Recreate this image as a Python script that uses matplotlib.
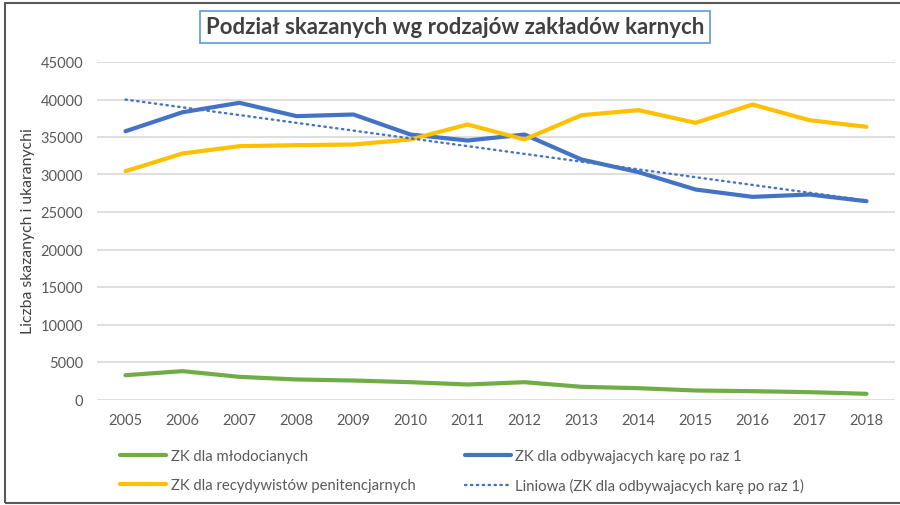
import numpy as np
import matplotlib
matplotlib.use("Agg")
import matplotlib.pyplot as plt
from matplotlib.patches import Rectangle

plt.rcParams['font.family'] = ['Lato', 'DejaVu Sans']

years = [2005, 2006, 2007, 2008, 2009, 2010, 2011, 2012, 2013, 2014, 2015, 2016, 2017, 2018]
mlodociani = [3240, 3780, 3020, 2670, 2530, 2310, 2000, 2310, 1690, 1510, 1200, 1110, 980, 760]
pierwszy_raz = [35770, 38300, 39560, 37780, 38000, 35330, 34530, 35330, 32000, 30310, 28000, 27020, 27330, 26440]
recydywisci = [30440, 32800, 33780, 33910, 34000, 34670, 36670, 34670, 37910, 38580, 36890, 39330, 37240, 36360]
yticks = [0, 5000, 10000, 15000, 20000, 25000, 30000, 35000, 40000, 45000]

labels = ["ZK dla młodocianych", "ZK dla odbywajacych karę po raz 1",
          "ZK dla recydywistów penitencjarnych", "Liniowa (ZK dla odbywajacych karę po raz 1)"]
title = "Podział skazanych wg rodzajów zakładów karnych"
ylabel = "Liczba skazanych i ukaranychi"

W, H = 900, 506
fig = plt.figure(figsize=(W / 100, H / 100), dpi=100)
ax = fig.add_axes([97 / W, 1 - 400.5 / H, (895 - 97) / W, (400.5 - 63) / H])

green, blue, yellow = '#70AD47', '#4472C4', '#FFC000'
x = np.array(years, dtype=float)
l1, = ax.plot(x, mlodociani, color=green, lw=3.0, solid_capstyle='round', solid_joinstyle='round', zorder=3)
l2, = ax.plot(x, pierwszy_raz, color=blue, lw=3.0, solid_capstyle='round', solid_joinstyle='round', zorder=3)
l3, = ax.plot(x, recydywisci, color=yellow, lw=3.0, solid_capstyle='round', solid_joinstyle='round', zorder=3)
coef = np.polyfit(x, pierwszy_raz, 1)
l4, = ax.plot(x, np.polyval(coef, x), color=blue, lw=1.7, linestyle=(0, (0.6, 1.9)),
              dash_capstyle='round', zorder=4)

ax.set_xlim(years[0] - 0.5, years[-1] + 0.5)
ax.set_ylim(0, 45000)
ax.set_xticks(years)
ax.set_xticklabels([str(y) for y in years])
ax.set_yticks(yticks)
ax.set_yticklabels([str(v) for v in yticks])
ax.grid(axis='y', color='#D9D9D9', lw=1.2)
ax.set_axisbelow(True)
for s in ax.spines.values():
    s.set_visible(False)
ax.tick_params(axis='both', length=0, labelsize=10.5, labelcolor='#595959')
ax.tick_params(axis='x', pad=10)
ax.tick_params(axis='y', pad=10)

fig.text(28 / W, 1 - 231 / H, ylabel, rotation=90, ha='center', va='center',
         fontsize=11.3, color='#404040')

fig.text(455 / W, 1 - 28 / H, title, ha='center', va='center', fontsize=16,
         fontweight='bold', color='#404040',
         bbox=dict(boxstyle='square,pad=0.25', facecolor='white', edgecolor='#5B9BD5', lw=1.2))

leg = fig.legend([l1, l3, l2, l4], [labels[0], labels[2], labels[1], labels[3]],
                 ncol=2, loc='upper left', bbox_to_anchor=(107 / W, 1 - 437 / H),
                 frameon=False, fontsize=10.7, handlelength=3.1, handletextpad=0.3,
                 columnspacing=3.3, labelspacing=1.0)
for t in leg.get_texts():
    t.set_color('#595959')

fig.patches.append(Rectangle((5 / W, 2 / H), 1.2, 1 - 6 / H, transform=fig.transFigure,
                             fill=False, edgecolor='#595959', lw=1.5))

fig.savefig('out.png', dpi=100)
